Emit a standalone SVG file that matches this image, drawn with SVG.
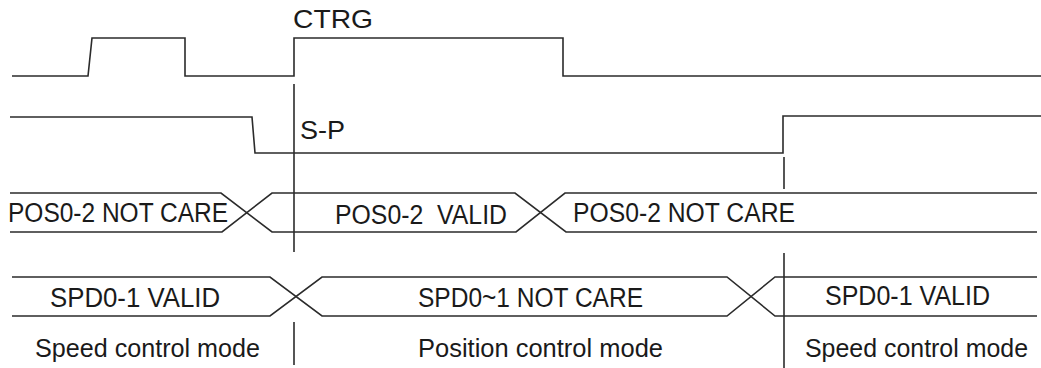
<svg xmlns="http://www.w3.org/2000/svg" width="1041" height="368" viewBox="0 0 1041 368">
<style>
.w{fill:none;stroke:#2b2b2b;stroke-width:1.6;stroke-linejoin:miter}
.t{font-family:"Liberation Sans",Arial,sans-serif;font-size:27px;fill:#1a1a1a;white-space:pre}
.m{font-size:26px}
</style>
<rect width="1041" height="368" fill="#fff"/>
<g id="ctrg">
<polyline class="w" points="12,76 88,76 92,38 185,38 185,76 294,76 294,38 563,38 563,76 1041,76"/>
<text class="t" x="293" y="28" textLength="80" lengthAdjust="spacingAndGlyphs" style="font-size:25px">CTRG</text>
</g>
<g id="sp">
<polyline class="w" points="10,117 252,117 255,153 783,153 783,116 1041,116"/>
<text class="t" x="300" y="139" textLength="45" lengthAdjust="spacingAndGlyphs" style="font-size:25px">S-P</text>
</g>
<g id="pos">
<polyline class="w" points="10,193 221,193 272,232 516,232 565,193 1037,193"/>
<polyline class="w" points="10,232 222,232 272,193 515,193 566,232 1037,232"/>
<text class="t" x="8" y="222" textLength="220" lengthAdjust="spacingAndGlyphs">POS0-2 NOT CARE</text>
<text class="t" x="335" y="224" textLength="172" lengthAdjust="spacingAndGlyphs" xml:space="preserve">POS0-2  VALID</text>
<text class="t" x="573" y="222" textLength="222" lengthAdjust="spacingAndGlyphs">POS0-2 NOT CARE</text>
</g>
<g id="spd">
<polyline class="w" points="12,277 270,277 322,316 727,316 775,277 1037,277"/>
<polyline class="w" points="12,316 270,316 322,277 727,277 775,316 1037,316"/>
<text class="t" x="50" y="307" textLength="170" lengthAdjust="spacingAndGlyphs">SPD0-1 VALID</text>
<text class="t" x="418" y="307" textLength="225" lengthAdjust="spacingAndGlyphs">SPD0~1 NOT CARE</text>
<text class="t" x="825" y="305" textLength="165" lengthAdjust="spacingAndGlyphs">SPD0-1 VALID</text>
</g>
<g id="modes">
<text class="t m" x="35" y="357" textLength="225" lengthAdjust="spacingAndGlyphs">Speed control mode</text>
<text class="t m" x="418" y="357" textLength="245" lengthAdjust="spacingAndGlyphs">Position control mode</text>
<text class="t m" x="805" y="357" textLength="223" lengthAdjust="spacingAndGlyphs">Speed control mode</text>
</g>
<g id="connectors">
<line class="w" x1="294" y1="84" x2="294" y2="252"/>
<line class="w" x1="294" y1="322" x2="294" y2="365"/>
<line class="w" x1="784" y1="157" x2="784" y2="189"/>
<line class="w" x1="784" y1="253" x2="784" y2="368"/>
</g>
</svg>
